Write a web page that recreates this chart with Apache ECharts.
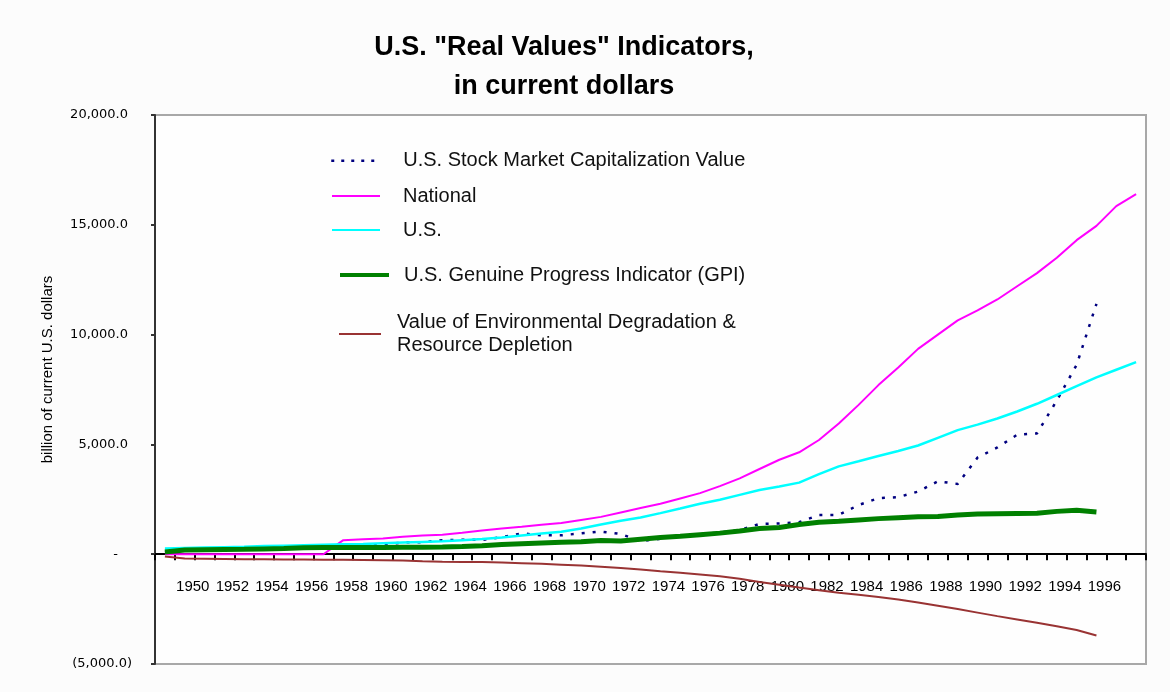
<!DOCTYPE html>
<html lang="en">
<head>
<meta charset="UTF-8">
<title>U.S. Real Values Indicators</title>
<script src="https://cdn.jsdelivr.net/npm/echarts@6.0.0/dist/echarts.min.js"></script>
<style>
  html, body { margin: 0; padding: 0; background: #fcfcfc; }
  #chart { width: 1170px; height: 692px; }
</style>
</head>
<body>
<div id="chart"></div>
<script>
// categories (first one has no label in the original)
var years = ['1949','1950','1951','1952','1953','1954','1955','1956','1957','1958',
             '1959','1960','1961','1962','1963','1964','1965','1966','1967','1968',
             '1969','1970','1971','1972','1973','1974','1975','1976','1977','1978',
             '1979','1980','1981','1982','1983','1984','1985','1986','1987','1988',
             '1989','1990','1991','1992','1993','1994','1995','1996','1997','1998'];

// billion of current U.S. dollars
var stockCap = [100,170,190,200,220,250,270,290,320,
                390,390,420,540,540,640,660,650,780,950,860,860,950,1030,920,
                600,700,860,900,990,1100,1380,1400,1460,1780,1790,
                2240,2550,2600,2850,3320,3200,4400,4860,5440,5500,7000,8620,11400];

var national = [0,0,0,0,0,0,0,0,0,
                640,680,720,790,850, 890,980,1080,1170,1250,
                1340,1420,1560,1700,1900, 2100,2300,2540,2780,3100,
                3450,3880,4300,4640,5200, 5950,6800,7700,8500,9350,
                10000,10650,11100,11600,12200, 12800,13500,14300,14950,15850,
                16400];

var usValue = [260,280,300,320,340,370,390,410,430,450,470,500,530,560,
               590,640,690,760,850,940,1020,
               1170,1350,1520,1670,1870,2080,2300,2480,2700,2920,
               3080,3260,3650,4000,4230,4470,4700,4950,5300,5650,
               5900,6180,6500,6850,7250,7650,8050,8400,8750];

var gpi = [100,190,200,210,220,240,260,290,300,300,310,310,320,320,
           330,350,390,440,480,510,540,570,620,600,680,760,820,890,960,1060,1170,
           1220,1350,1450,1500,1560,1620,1660,1700,1720,1780,1830,1840,1850,1860,1950,2000,1920];

var envDegradation = [-100,-200,-210,-220,-230,-230,-240,-240,-250,-250,
                      -260,-270,-290,-320,-340,-350,-360,-380,-410,-440,
                      -480,-520,-570,-630,-700,-780,-850,-920,-1000,-1120,
                      -1270,-1390,-1520,-1640,-1760,-1850,-1950,-2060,-2200,-2350,
                      -2500,-2660,-2820,-2970,-3120,-3280,-3450,-3700];

var yTicks = [-5000, 0, 5000, 10000, 15000, 20000];

var names = {
  stock: 'U.S. Stock Market Capitalization Value',
  national: 'National',
  us: 'U.S.',
  gpi: 'U.S. Genuine Progress Indicator (GPI)',
  env: 'Value of Environmental Degradation & Resource Depletion'
};

var colors = {
  stock: '#000080',
  national: '#ff00ff',
  us: '#00ffff',
  gpi: '#008000',
  env: '#993333'
};

var sans = "'Liberation Sans', Arial, sans-serif";

function fmtY(v) {
  var s = Math.abs(v).toLocaleString('en-US', { minimumFractionDigits: 1, maximumFractionDigits: 1 });
  if (v === 0) return '{z|-}';
  if (v < 0) return '(' + s + ')';
  return '{p|' + s + '}';
}

function legendItem(name, left, top, width, lineStyle, pad, formatter) {
  var l = {
    data: [name],
    orient: 'vertical',
    left: left,
    top: top,
    padding: 0,
    itemWidth: width,
    itemHeight: 10,
    selectedMode: false,
    lineStyle: lineStyle,
    itemStyle: { opacity: 0 },
    textStyle: { fontFamily: sans, fontSize: 20, lineHeight: 23, color: '#111', padding: pad }
  };
  if (formatter) l.formatter = formatter;
  return l;
}

// grid geometry; the category axis sits on the zero line
var gridTop = 115, gridBottom = 28, chartH = 692;
var plotH = chartH - gridTop - gridBottom;
var zeroOffset = -plotH * (0 - yTicks[0]) / (yTicks[yTicks.length - 1] - yTicks[0]);

var chart = echarts.init(document.getElementById('chart'));

var option = {
  backgroundColor: '#fcfcfc',
  animation: false,
  title: {
    text: 'U.S. "Real Values" Indicators,\nin current dollars',
    left: 564,
    top: 28,
    padding: 0,
    textAlign: 'center',
    textVerticalAlign: 'top',
    textStyle: { fontFamily: sans, fontSize: 27, fontWeight: 'bold', lineHeight: 39, color: '#000' }
  },
  legend: [
    legendItem(names.stock, 330, 144.7, 44, { color: colors.stock, width: 2.5, type: [3, 7] }, [0, 0, 9, 23]),
    legendItem(names.national, 331, 182, 48, { color: colors.national, width: 2 }, [0, 0, 5, 18]),
    legendItem(names.us, 331, 216, 48, { color: colors.us, width: 2 }, [5, 0, 0, 18]),
    legendItem(names.gpi, 338, 259.5, 49, { color: colors.gpi, width: 4 }, [0, 0, 8, 10]),
    legendItem(names.env, 338, 304, 42, { color: colors.env, width: 2 }, [14, 0, 0, 11], function () {
      return 'Value of Environmental Degradation &\nResource Depletion';
    })
  ],
  grid: {
    left: 155, right: 24, top: gridTop, bottom: gridBottom,
    containLabel: false,
    outerBoundsMode: 'none',
    show: true, backgroundColor: '#fefefe', borderColor: '#a8a8a8', borderWidth: 2
  },
  xAxis: {
    type: 'category',
    data: years,
    boundaryGap: true,
    offset: zeroOffset,
    axisLine: { show: true, onZero: false, lineStyle: { color: '#000', width: 2 } },
    axisTick: { show: true, interval: 0, length: 6, lineStyle: { color: '#000', width: 2 } },
    axisLabel: {
      show: true,
      interval: function (i, v) { return +v % 2 === 0 && +v <= 1996; },
      hideOverlap: false,
      margin: 25,
      fontFamily: sans,
      fontSize: 15,
      color: '#000',
      padding: [0, 0, 0, 16]
    },
    splitLine: { show: false }
  },
  yAxis: {
    type: 'value',
    min: yTicks[0],
    max: yTicks[yTicks.length - 1],
    interval: 5000,
    axisLine: { show: true, lineStyle: { color: '#333', width: 2 } },
    axisTick: { show: true, length: 4, lineStyle: { color: '#333', width: 2 } },
    splitLine: { show: false },
    axisLabel: {
      margin: 23,
      formatter: fmtY,
      fontFamily: 'DejaVu Sans',
      fontSize: 13,
      color: '#000',
      rich: {
        p: { fontFamily: 'DejaVu Sans', fontSize: 13, color: '#000', padding: [0, 4, 0, 0] },
        z: { fontFamily: 'DejaVu Sans', fontSize: 13, color: '#000', padding: [0, 14, 0, 0] }
      }
    },
    name: 'billion of current U.S. dollars',
    nameLocation: 'middle',
    nameRotate: 90,
    nameGap: 100,
    nameTextStyle: { fontFamily: sans, fontSize: 15, color: '#000', padding: [0, 0, 0, 40] }
  },
  series: [
    {
      name: names.stock, type: 'line', data: stockCap, symbol: 'none',
      lineStyle: { color: colors.stock, width: 2.5, type: [3, 8] }
    },
    {
      name: names.national, type: 'line', data: national, symbol: 'none',
      lineStyle: { color: colors.national, width: 2 }
    },
    {
      name: names.us, type: 'line', data: usValue, symbol: 'none',
      lineStyle: { color: colors.us, width: 2.5 }
    },
    {
      name: names.gpi, type: 'line', data: gpi, symbol: 'none',
      lineStyle: { color: colors.gpi, width: 5 }
    },
    {
      name: names.env, type: 'line', data: envDegradation, symbol: 'none',
      lineStyle: { color: colors.env, width: 2 }
    }
  ]
};

chart.setOption(option);
</script>
</body>
</html>
